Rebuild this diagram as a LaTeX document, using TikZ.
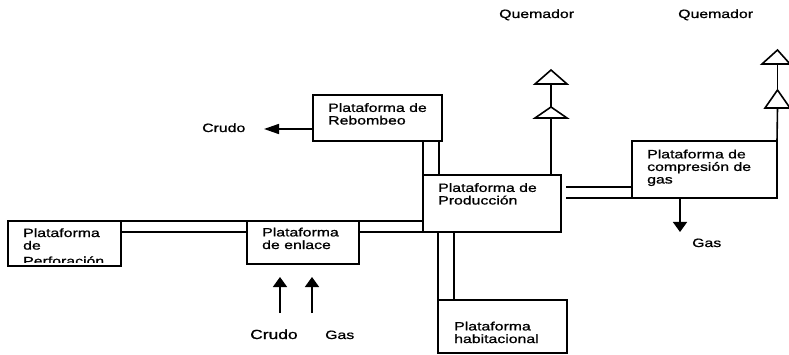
\documentclass[tikz,border=0pt]{standalone}
\usepackage{fontspec}
\setmainfont{Liberation Sans}[FakeStretch=1.32,FakeBold=1.0]
\usetikzlibrary{arrows.meta,calc}
\tikzset{
  boxnode/.style={draw=black,line width=1.6pt,fill=none,inner sep=0pt,outer sep=0pt},
  label text/.style={inner sep=0pt,anchor=base west,align=left,font=\fontsize{12}{12.6}\selectfont,text=black},
  pipe/.style={draw=black,line width=1.6pt},
  flow/.style={draw=black,line width=1.6pt,-{Triangle[length=10pt,width=14pt]}},
  flowlong/.style={draw=black,line width=1.6pt,-{Triangle[length=15pt,width=10pt]}},
  flare/.style={draw=black,line width=1.6pt,line join=miter}
}
\newcommand{\pbox}[5]{\node[boxnode,minimum width=#4-#2,minimum height=#5-#3] (#1) at ({(#2+#4)/2},{(#3+#5)/2}) {};}
\begin{document}
\begin{tikzpicture}[x=1pt,y=-1pt]
\useasboundingbox (0,0) rectangle (789,355);
% boxes
\pbox{perf}{8}{221}{121}{266}
\pbox{enl}{247}{221}{359}{264}
\pbox{prod}{423}{175}{561}{232}
\pbox{reb}{313}{95}{442}{141}
\pbox{comp}{632}{141}{777}{198}
\pbox{hab}{438}{300}{567}{353}
% box texts
\begin{scope}
\clip (9,222) rectangle (120,262);
\node[label text] (perfT) at (23,265.2) {Plataforma\\de\\[3pt]Perforación};
\end{scope}
\node[label text] (enlT) at (262,249) {Plataforma\\de enlace};
\node[label text] (prodT) at (438,204.5) {Plataforma de\\Producción};
\node[label text] (rebT) at (328,124.5) {Plataforma de\\Rebombeo};
\node[label text] (compT) at (647,183.5) {Plataforma de\\compresión de\\gas};
\node[label text] (habT) at (454,343) {Plataforma\\habitacional};
% free labels
\node[label text] (q1) at (499,18) {Quemador};
\node[label text] (q2) at (678,18) {Quemador};
\node[label text] (crudoA) at (202,132) {Crudo};
\node[label text] (gasA) at (692,247) {Gas};
\node[label text,font=\fontsize{13.2}{14}\selectfont] (crudoB) at (250,339) {Crudo};
\node[label text] (gasB) at (325,339) {Gas};
% double pipes
\draw[pipe] (perf.north east) -- (enl.north west);
\draw[pipe] ($(perf.north east)+(0,11)$) -- ($(enl.north west)+(0,11)$);
\draw[pipe] (enl.north east) -- ($(prod.south west)+(0,-11)$);
\draw[pipe] ($(enl.north east)+(0,11)$) -- (prod.south west);
\draw[pipe] (reb.south west -| prod.north west) -- (prod.north west);
\draw[pipe] ($(reb.south west -| prod.north west)+(16,0)$) -- ($(prod.north west)+(16,0)$);
\draw[pipe] ($(prod.south west)+(15,0)$) -- (hab.north west);
\draw[pipe] ($(prod.south west)+(31,0)$) -- ($(hab.north west)+(16,0)$);
\draw[pipe] ($(prod.east |- comp.south west)+(5,-11)$) -- ($(comp.south west)+(0,-11)$);
\draw[pipe] ($(prod.east |- comp.south west)+(5,0)$) -- (comp.south west);
% flares
\coordinate (fa) at (551,118);
\coordinate (fb) at (551,84);
\coordinate (fc) at (777.5,108);
\coordinate (fd) at (777.5,64);
\draw[pipe] (prod.north -| fa) -- (fa);
\draw[pipe] (fa |- 0,107) -- (fb);
\draw[flare] (535,118) -- (551,107) -- (567,118) -- cycle;
\draw[flare] (535,84) -- (551,70) -- (567,84) -- cycle;
\draw[pipe] (comp.north east) -- (fc);
\draw[pipe] (fc |- 0,90) -- (fd);
\draw[flare] (765,108) -- (777.5,90) -- (790,108) -- cycle;
\draw[flare] (762,64) -- (777.5,50) -- (790,64) -- cycle;
% arrows
\draw[flowlong] (reb.west |- 0,129) -- (264,129);
\draw[flow] (comp.south -| 680,0) -- (680,232);
\coordinate (u1) at (280,313);
\coordinate (u2) at (312,313);
\draw[flow] (u1) -- (280,277);
\draw[flow] (u2) -- (312,277);
\end{tikzpicture}
\end{document}
